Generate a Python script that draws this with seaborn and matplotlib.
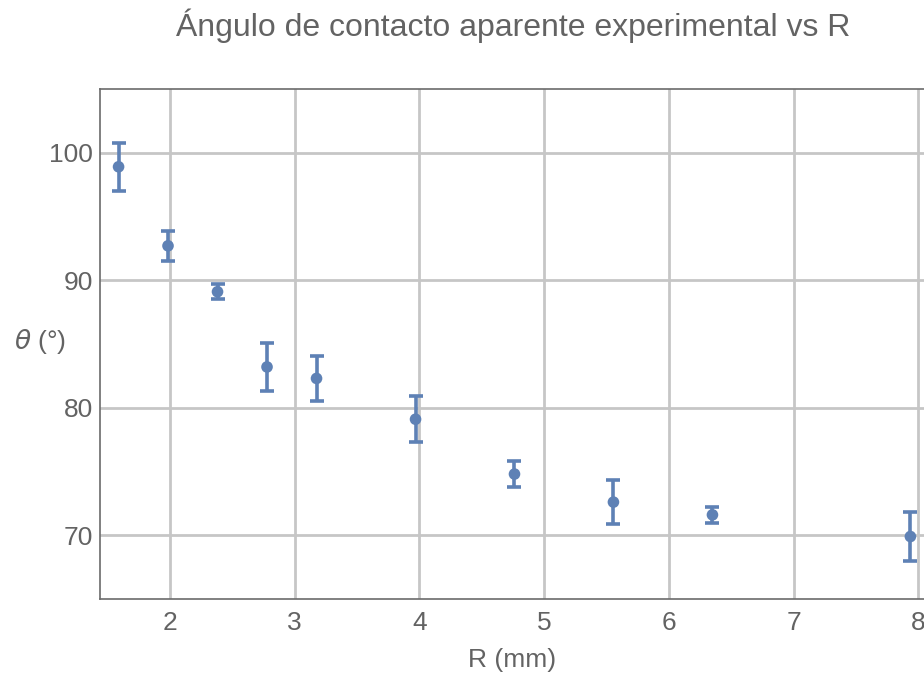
import matplotlib
matplotlib.use("Agg")
import matplotlib.pyplot as plt
import seaborn as sns
import numpy as np
import pandas as pd

# Data
R_mm = [1.5875, 1.984, 2.381, 2.778, 3.175, 3.969, 4.7625, 5.556, 6.35, 7.9375]
theta_deg = [98.9, 92.7, 89.1, 83.2, 82.3, 79.1, 74.8, 72.6, 71.6, 69.9]
theta_err = [1.9, 1.2, 0.6, 1.9, 1.75, 1.8, 1.05, 1.7, 0.65, 1.95]
x_ticks = [2, 3, 4, 5, 6, 7, 8]
y_ticks = [70, 80, 90, 100]

df = pd.DataFrame({"R": R_mm, "theta": theta_deg, "err": theta_err})

sns.set_theme(style="white")
plt.rcParams['font.family'] = ['Liberation Sans', 'DejaVu Sans']

W, H = 924, 677
fig = plt.figure(figsize=(W / 100, H / 100), dpi=100)
left, right, top, bottom = 100, 930, 89, 599
ax = fig.add_axes([left / W, 1 - bottom / H, (right - left) / W, (bottom - top) / H])

blue = "#5E81B5"
text_col = "#636363"

ax.errorbar(df["R"], df["theta"], yerr=df["err"], fmt="none", ecolor=blue,
            elinewidth=2.6, capsize=5.0, capthick=2.6, zorder=3)
sns.scatterplot(data=df, x="R", y="theta", ax=ax, color=blue, s=70,
                edgecolor="none", zorder=4)

ax.set_xlim(1.4386, 2 + (right - 170) / 124.7)
ax.set_ylim(65.0, 105.0)
ax.set_xticks(x_ticks)
ax.set_yticks(y_ticks)
ax.set_xlabel("")
ax.set_ylabel("")

ax.grid(True, color="#c6c6c6", linewidth=2.0)
ax.set_axisbelow(True)
for s in ["left", "bottom", "top", "right"]:
    ax.spines[s].set_color("#6b6b6b")
    ax.spines[s].set_linewidth(1.2)

ax.tick_params(axis="both", direction="in", length=5, width=1, color="#9a9a9a",
               labelsize=19, labelcolor=text_col)
ax.tick_params(axis="y", pad=5)
ax.tick_params(axis="x", pad=9)

fig.text(512 / W, 1 - 660 / H, "R (mm)", ha="center", va="center",
         fontsize=19, color=text_col)
fig.text(40 / W, 1 - 341 / H, r"$\theta$ (°)", ha="center", va="center",
         fontsize=19, color=text_col)

fig.text(513 / W, 1 - 26 / H, "Ángulo de contacto aparente experimental vs R",
         ha="center", va="center", fontsize=23, color=text_col)

fig.savefig("out.png", dpi=100)
